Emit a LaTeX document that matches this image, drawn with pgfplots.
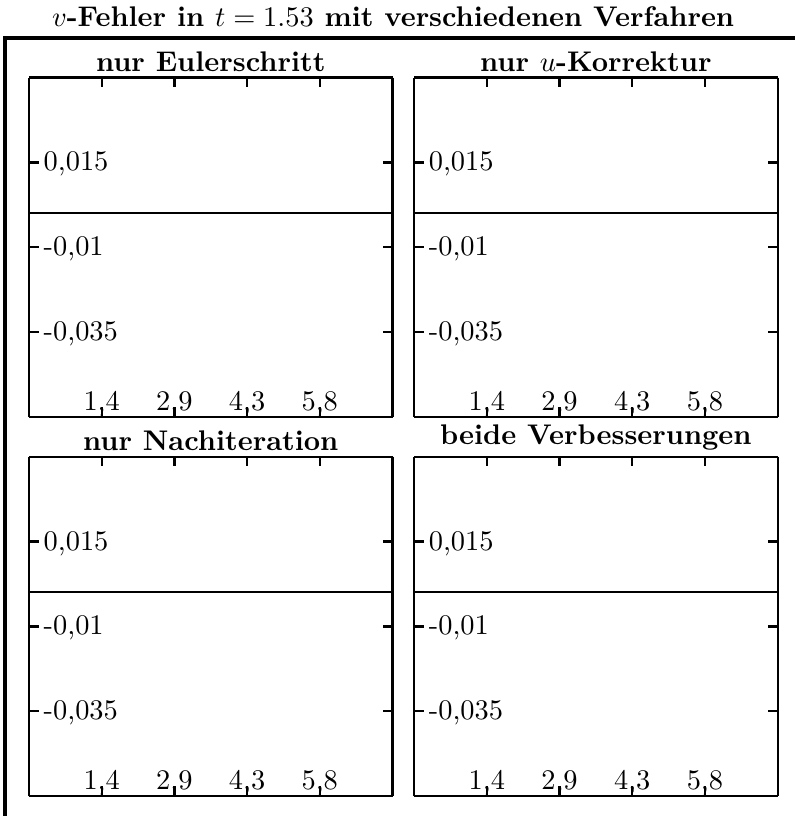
\documentclass[border=0pt]{standalone}
\usepackage{pgfplots}
\pgfplotsset{compat=1.18}
\pgfplotsset{every axis/.append style={line width=0.8pt}}
\pgfplotsset{
  sub/.style={
    width=128pt, height=119.5pt, scale only axis,
    anchor=south west,
    xmin=0, xmax=7.25, ymin=-0.06, ymax=0.04,
    scaled x ticks=false, scaled y ticks=false,
    xtick={0,1.45,2.9,4.35,5.8,7.25},
    xticklabels={,{1,4},{2,9},{4,3},{5,8},},
    ytick={-0.035,-0.01,0.015},
    yticklabels={{-0,035},{-0,01},{0,015}},
    tick align=inside,
    major tick length=3.4pt,
    separate axis lines,
    axis line style={line width=0.8pt},
    every tick/.style={black, line width=0.8pt},
    xticklabel style={anchor=south, inner sep=0pt},
    yticklabel style={anchor=west, inner sep=0pt, xshift=4.8pt, yshift=-0.6pt},
    every axis title/.style={at={(0.5,1)}, anchor=south, inner sep=1.8pt, font=\bfseries},
  }
}
\pgfplotstableread{
x y
0 0
1.45 0
2.9 0
4.35 0
5.8 0
7.25 0
}\errEuler
\pgfplotstableread{
x y
0 0
1.45 0
2.9 0
4.35 0
5.8 0
7.25 0
}\errU
\pgfplotstableread{
x y
0 0
1.45 0
2.9 0
4.35 0
5.8 0
7.25 0
}\errNach
\pgfplotstableread{
x y
0 0
1.45 0
2.9 0
4.35 0
5.8 0
7.25 0
}\errBeide
\begin{document}
\begin{tikzpicture}
\useasboundingbox (0,0) rectangle (279.9pt,287.3pt);
\draw[line width=1.4pt] (1.9pt,0) -- (1.9pt,273.8pt) -- (281pt,273.8pt);
\node[anchor=base, inner sep=0pt, font=\bfseries] at (138.4pt,277.8pt) {$v$-Fehler in $t=1.53$ mit verschiedenen Verfahren};
\begin{axis}[sub, at={(10.2pt,140.5pt)}, title={nur Eulerschritt}]
\addplot[black, line width=0.7pt] table {\errEuler};
\end{axis}
\begin{axis}[sub, at={(145.8pt,140.5pt)}, title={nur $u$-Korrektur}]
\addplot[black, line width=0.7pt] table {\errU};
\end{axis}
\begin{axis}[sub, at={(10.2pt,7pt)}, title={nur Nachiteration}]
\addplot[black, line width=0.7pt] table {\errNach};
\end{axis}
\begin{axis}[sub, at={(145.8pt,7pt)}, title={beide Verbesserungen}]
\addplot[black, line width=0.7pt] table {\errBeide};
\end{axis}
\end{tikzpicture}
\end{document}
